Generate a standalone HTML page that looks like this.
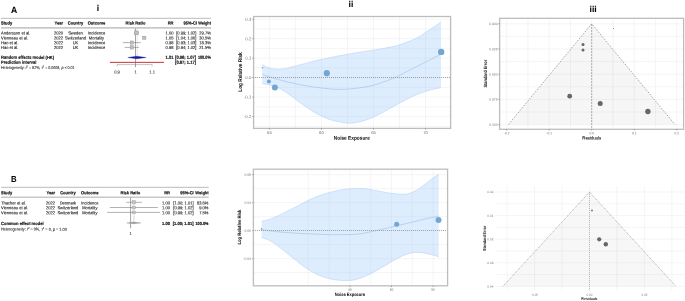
<!DOCTYPE html>
<html><head><meta charset="utf-8"><title>Figure</title>
<style>
html,body{margin:0;padding:0;background:#fff;}
body{width:685px;height:301px;overflow:hidden;}
svg{display:block;will-change:transform;}
text{font-family:"Liberation Sans", sans-serif;text-rendering:geometricPrecision;paint-order:stroke;}
</style></head>
<body>
<svg width="685" height="301" viewBox="0 0 685 301">
<rect width="685" height="301" fill="#fff"/>
<text x="10.90" y="13.10" font-size="9.20" text-anchor="start" fill="#000" stroke="#000" font-weight="bold" textLength="6.20" lengthAdjust="spacingAndGlyphs"  stroke-width="0.06" transform="rotate(0.05 10.90 13.10)">A</text>
<text x="10.90" y="182.10" font-size="8.80" text-anchor="start" fill="#000" stroke="#000" font-weight="bold" textLength="5.60" lengthAdjust="spacingAndGlyphs"  stroke-width="0.06" transform="rotate(0.05 10.90 182.10)">B</text>
<text x="97.90" y="11.10" font-size="8.60" text-anchor="middle" fill="#000" stroke="#000" font-weight="bold"  stroke-width="0.06" transform="rotate(0.05 97.90 11.10)">i</text>
<text x="350.90" y="7.10" font-size="8.60" text-anchor="middle" fill="#000" stroke="#000" font-weight="bold"  stroke-width="0.06" transform="rotate(0.05 350.90 7.10)">ii</text>
<text x="593.10" y="12.10" font-size="8.60" text-anchor="middle" fill="#000" stroke="#000" font-weight="bold"  stroke-width="0.06" transform="rotate(0.05 593.10 12.10)">iii</text>
<line x1="1.00" y1="18.40" x2="211.00" y2="18.40" stroke="#c8c8c8" stroke-width="1.30" />
<line x1="1.00" y1="27.90" x2="211.00" y2="27.90" stroke="#c8c8c8" stroke-width="1.60" />
<text x="1.00" y="24.60" font-size="4.40" text-anchor="start" fill="#111" stroke="#111" font-weight="bold" textLength="11.25" lengthAdjust="spacingAndGlyphs"  stroke-width="0.17" transform="rotate(0.05 1.00 24.60)">Study</text>
<text x="63.00" y="24.60" font-size="4.40" text-anchor="end" fill="#111" stroke="#111" font-weight="bold" textLength="8.56" lengthAdjust="spacingAndGlyphs"  stroke-width="0.17" transform="rotate(0.05 63.00 24.60)">Year</text>
<text x="75.50" y="24.60" font-size="4.40" text-anchor="middle" fill="#111" stroke="#111" font-weight="bold" textLength="15.52" lengthAdjust="spacingAndGlyphs"  stroke-width="0.17" transform="rotate(0.05 75.50 24.60)">Country</text>
<text x="96.50" y="24.60" font-size="4.40" text-anchor="middle" fill="#111" stroke="#111" font-weight="bold" textLength="17.55" lengthAdjust="spacingAndGlyphs"  stroke-width="0.17" transform="rotate(0.05 96.50 24.60)">Outcome</text>
<text x="135.50" y="24.60" font-size="4.40" text-anchor="middle" fill="#111" stroke="#111" font-weight="bold" textLength="19.81" lengthAdjust="spacingAndGlyphs"  stroke-width="0.17" transform="rotate(0.05 135.50 24.60)">Risk Ratio</text>
<text x="173.50" y="24.60" font-size="4.40" text-anchor="end" fill="#111" stroke="#111" font-weight="bold" textLength="5.85" lengthAdjust="spacingAndGlyphs"  stroke-width="0.17" transform="rotate(0.05 173.50 24.60)">RR</text>
<text x="197.10" y="24.60" font-size="4.40" text-anchor="end" fill="#111" stroke="#111" font-weight="bold" textLength="13.50" lengthAdjust="spacingAndGlyphs"  stroke-width="0.17" transform="rotate(0.05 197.10 24.60)">95%-CI</text>
<text x="211.00" y="24.60" font-size="4.40" text-anchor="end" fill="#111" stroke="#111" font-weight="bold" textLength="12.80" lengthAdjust="spacingAndGlyphs"  stroke-width="0.17" transform="rotate(0.05 211.00 24.60)">Weight</text>
<text x="1.00" y="34.55" font-size="4.40" text-anchor="start" fill="#111" stroke="#111" textLength="29.27" lengthAdjust="spacingAndGlyphs"  stroke-width="0.09" transform="rotate(0.05 1.00 34.55)">Andersson et al.</text>
<text x="63.00" y="34.55" font-size="4.40" text-anchor="end" fill="#111" stroke="#111" textLength="9.01" lengthAdjust="spacingAndGlyphs"  stroke-width="0.09" transform="rotate(0.05 63.00 34.55)">2020</text>
<text x="75.50" y="34.55" font-size="4.40" text-anchor="middle" fill="#111" stroke="#111" textLength="14.64" lengthAdjust="spacingAndGlyphs"  stroke-width="0.09" transform="rotate(0.05 75.50 34.55)">Sweden</text>
<text x="96.50" y="34.55" font-size="4.40" text-anchor="middle" fill="#111" stroke="#111" textLength="17.34" lengthAdjust="spacingAndGlyphs"  stroke-width="0.09" transform="rotate(0.05 96.50 34.55)">Incidence</text>
<text x="173.50" y="34.55" font-size="4.40" text-anchor="end" fill="#111" stroke="#111" textLength="7.88" lengthAdjust="spacingAndGlyphs"  stroke-width="0.09" transform="rotate(0.05 173.50 34.55)">1.00</text>
<text x="196.50" y="34.55" font-size="4.40" text-anchor="end" fill="#111" stroke="#111" textLength="20.27" lengthAdjust="spacingAndGlyphs"  stroke-width="0.09" transform="rotate(0.05 196.50 34.55)">[0.99; 1.02]</text>
<text x="210.80" y="34.55" font-size="4.40" text-anchor="end" fill="#111" stroke="#111" textLength="11.48" lengthAdjust="spacingAndGlyphs"  stroke-width="0.09" transform="rotate(0.05 210.80 34.55)">29.7%</text>
<text x="1.00" y="39.45" font-size="4.40" text-anchor="start" fill="#111" stroke="#111" textLength="26.95" lengthAdjust="spacingAndGlyphs"  stroke-width="0.09" transform="rotate(0.05 1.00 39.45)">Vienneau et al.</text>
<text x="63.00" y="39.45" font-size="4.40" text-anchor="end" fill="#111" stroke="#111" textLength="9.01" lengthAdjust="spacingAndGlyphs"  stroke-width="0.09" transform="rotate(0.05 63.00 39.45)">2022</text>
<text x="75.50" y="39.45" font-size="4.40" text-anchor="middle" fill="#111" stroke="#111" textLength="20.94" lengthAdjust="spacingAndGlyphs"  stroke-width="0.09" transform="rotate(0.05 75.50 39.45)">Switzerland</text>
<text x="96.50" y="39.45" font-size="4.40" text-anchor="middle" fill="#111" stroke="#111" textLength="15.30" lengthAdjust="spacingAndGlyphs"  stroke-width="0.09" transform="rotate(0.05 96.50 39.45)">Mortality</text>
<text x="173.50" y="39.45" font-size="4.40" text-anchor="end" fill="#111" stroke="#111" textLength="7.88" lengthAdjust="spacingAndGlyphs"  stroke-width="0.09" transform="rotate(0.05 173.50 39.45)">1.05</text>
<text x="196.50" y="39.45" font-size="4.40" text-anchor="end" fill="#111" stroke="#111" textLength="20.27" lengthAdjust="spacingAndGlyphs"  stroke-width="0.09" transform="rotate(0.05 196.50 39.45)">[1.04; 1.06]</text>
<text x="210.80" y="39.45" font-size="4.40" text-anchor="end" fill="#111" stroke="#111" textLength="11.48" lengthAdjust="spacingAndGlyphs"  stroke-width="0.09" transform="rotate(0.05 210.80 39.45)">30.5%</text>
<text x="1.00" y="44.25" font-size="4.40" text-anchor="start" fill="#111" stroke="#111" textLength="17.34" lengthAdjust="spacingAndGlyphs"  stroke-width="0.09" transform="rotate(0.05 1.00 44.25)">Hao et al.</text>
<text x="63.00" y="44.25" font-size="4.40" text-anchor="end" fill="#111" stroke="#111" textLength="9.01" lengthAdjust="spacingAndGlyphs"  stroke-width="0.09" transform="rotate(0.05 63.00 44.25)">2022</text>
<text x="75.50" y="44.25" font-size="4.40" text-anchor="middle" fill="#111" stroke="#111" textLength="5.63" lengthAdjust="spacingAndGlyphs"  stroke-width="0.09" transform="rotate(0.05 75.50 44.25)">UK</text>
<text x="96.50" y="44.25" font-size="4.40" text-anchor="middle" fill="#111" stroke="#111" textLength="17.34" lengthAdjust="spacingAndGlyphs"  stroke-width="0.09" transform="rotate(0.05 96.50 44.25)">Incidence</text>
<text x="173.50" y="44.25" font-size="4.40" text-anchor="end" fill="#111" stroke="#111" textLength="7.88" lengthAdjust="spacingAndGlyphs"  stroke-width="0.09" transform="rotate(0.05 173.50 44.25)">0.98</text>
<text x="196.50" y="44.25" font-size="4.40" text-anchor="end" fill="#111" stroke="#111" textLength="20.27" lengthAdjust="spacingAndGlyphs"  stroke-width="0.09" transform="rotate(0.05 196.50 44.25)">[0.93; 1.03]</text>
<text x="210.80" y="44.25" font-size="4.40" text-anchor="end" fill="#111" stroke="#111" textLength="11.48" lengthAdjust="spacingAndGlyphs"  stroke-width="0.09" transform="rotate(0.05 210.80 44.25)">18.3%</text>
<text x="1.00" y="49.05" font-size="4.40" text-anchor="start" fill="#111" stroke="#111" textLength="17.34" lengthAdjust="spacingAndGlyphs"  stroke-width="0.09" transform="rotate(0.05 1.00 49.05)">Hao et al.</text>
<text x="63.00" y="49.05" font-size="4.40" text-anchor="end" fill="#111" stroke="#111" textLength="9.01" lengthAdjust="spacingAndGlyphs"  stroke-width="0.09" transform="rotate(0.05 63.00 49.05)">2022</text>
<text x="75.50" y="49.05" font-size="4.40" text-anchor="middle" fill="#111" stroke="#111" textLength="5.63" lengthAdjust="spacingAndGlyphs"  stroke-width="0.09" transform="rotate(0.05 75.50 49.05)">UK</text>
<text x="96.50" y="49.05" font-size="4.40" text-anchor="middle" fill="#111" stroke="#111" textLength="17.34" lengthAdjust="spacingAndGlyphs"  stroke-width="0.09" transform="rotate(0.05 96.50 49.05)">Incidence</text>
<text x="173.50" y="49.05" font-size="4.40" text-anchor="end" fill="#111" stroke="#111" textLength="7.88" lengthAdjust="spacingAndGlyphs"  stroke-width="0.09" transform="rotate(0.05 173.50 49.05)">0.98</text>
<text x="196.50" y="49.05" font-size="4.40" text-anchor="end" fill="#111" stroke="#111" textLength="20.27" lengthAdjust="spacingAndGlyphs"  stroke-width="0.09" transform="rotate(0.05 196.50 49.05)">[0.94; 1.02]</text>
<text x="210.80" y="49.05" font-size="4.40" text-anchor="end" fill="#111" stroke="#111" textLength="11.48" lengthAdjust="spacingAndGlyphs"  stroke-width="0.09" transform="rotate(0.05 210.80 49.05)">21.5%</text>
<text x="1.00" y="58.85" font-size="4.40" text-anchor="start" fill="#111" stroke="#111" font-weight="bold" textLength="53.11" lengthAdjust="spacingAndGlyphs"  stroke-width="0.17" transform="rotate(0.05 1.00 58.85)">Random effects model (HK)</text>
<text x="173.50" y="58.85" font-size="4.40" text-anchor="end" fill="#111" stroke="#111" font-weight="bold" textLength="7.88" lengthAdjust="spacingAndGlyphs"  stroke-width="0.17" transform="rotate(0.05 173.50 58.85)">1.01</text>
<text x="196.00" y="58.85" font-size="4.40" text-anchor="end" fill="#111" stroke="#111" font-weight="bold" textLength="20.94" lengthAdjust="spacingAndGlyphs"  stroke-width="0.17" transform="rotate(0.05 196.00 58.85)">[0.96; 1.07]</text>
<text x="210.80" y="58.85" font-size="4.40" text-anchor="end" fill="#111" stroke="#111" font-weight="bold" textLength="12.90" lengthAdjust="spacingAndGlyphs"  stroke-width="0.17" transform="rotate(0.05 210.80 58.85)">100.0%</text>
<text x="1.00" y="63.70" font-size="4.40" text-anchor="start" fill="#111" stroke="#111" font-weight="bold" textLength="35.34" lengthAdjust="spacingAndGlyphs"  stroke-width="0.17" transform="rotate(0.05 1.00 63.70)">Prediction interval</text>
<text x="196.00" y="63.70" font-size="4.40" text-anchor="end" fill="#111" stroke="#111" font-weight="bold" textLength="20.94" lengthAdjust="spacingAndGlyphs"  stroke-width="0.17" transform="rotate(0.05 196.00 63.70)">[0.87; 1.17]</text>
<text x="1.00" y="69.00" font-size="4.20" text-anchor="start" fill="#222" stroke="#222" textLength="73.60" lengthAdjust="spacingAndGlyphs"  stroke-width="0.08" transform="rotate(0.05 1.00 69.00)">Heterogeneity: <tspan font-style="italic">I</tspan><tspan dy="-1.7" font-size="2.9">2</tspan><tspan dy="1.7"> = 82%, </tspan><tspan font-style="italic">τ</tspan><tspan dy="-1.7" font-size="2.9">2</tspan><tspan dy="1.7"> = 0.0008, </tspan><tspan font-style="italic">p</tspan> &lt; 0.01</text>
<line x1="137.20" y1="28.60" x2="137.20" y2="56.00" stroke="#c8c8c8" stroke-width="0.60" stroke-dasharray="1.2,0.6"/>
<line x1="135.50" y1="28.60" x2="135.50" y2="67.20" stroke="#4a4a4a" stroke-width="0.50" />
<line x1="133.74" y1="32.90" x2="138.97" y2="32.90" stroke="#666" stroke-width="0.50" />
<line x1="142.36" y1="37.80" x2="145.70" y2="37.80" stroke="#666" stroke-width="0.50" />
<line x1="122.80" y1="42.60" x2="140.67" y2="42.60" stroke="#666" stroke-width="0.50" />
<line x1="124.67" y1="47.40" x2="138.97" y2="47.40" stroke="#666" stroke-width="0.50" />
<rect x="134.46" y="30.95" width="3.90" height="3.90" fill="#bdbdbd" stroke="#959595" stroke-width="0.4"/>
<rect x="142.64" y="36.15" width="3.30" height="3.30" fill="#bdbdbd" stroke="#959595" stroke-width="0.4"/>
<rect x="130.23" y="40.95" width="3.30" height="3.30" fill="#bdbdbd" stroke="#959595" stroke-width="0.4"/>
<rect x="130.23" y="45.75" width="3.30" height="3.30" fill="#bdbdbd" stroke="#959595" stroke-width="0.4"/>
<polygon points="127.80,57.5 136.80,56.2 146.20,57.5 136.80,58.8" fill="#1a1aa0" stroke="#00008b" stroke-width="0.3"/>
<line x1="110.00" y1="62.35" x2="164.00" y2="62.35" stroke="#c83232" stroke-width="1.00" />
<path d="M117.06,66.3 V64.6 H152.18 V66.3 M135.5,64.6 V66.3" fill="none" stroke="#888" stroke-width="0.5"/>
<text x="117.06" y="73.40" font-size="4.40" text-anchor="middle" fill="#333" stroke="#333" textLength="5.63" lengthAdjust="spacingAndGlyphs"  stroke-width="0.09" transform="rotate(0.05 117.06 73.40)">0.9</text>
<text x="135.50" y="73.40" font-size="4.40" text-anchor="middle" fill="#333" stroke="#333" textLength="2.25" lengthAdjust="spacingAndGlyphs"  stroke-width="0.09" transform="rotate(0.05 135.50 73.40)">1</text>
<text x="152.18" y="73.40" font-size="4.40" text-anchor="middle" fill="#333" stroke="#333" textLength="5.63" lengthAdjust="spacingAndGlyphs"  stroke-width="0.09" transform="rotate(0.05 152.18 73.40)">1.1</text>
<line x1="1.00" y1="187.30" x2="208.70" y2="187.30" stroke="#c8c8c8" stroke-width="1.30" />
<line x1="1.00" y1="197.30" x2="208.70" y2="197.30" stroke="#c8c8c8" stroke-width="1.60" />
<text x="1.00" y="194.25" font-size="4.40" text-anchor="start" fill="#111" stroke="#111" font-weight="bold" textLength="11.25" lengthAdjust="spacingAndGlyphs"  stroke-width="0.17" transform="rotate(0.05 1.00 194.25)">Study</text>
<text x="55.00" y="194.25" font-size="4.40" text-anchor="end" fill="#111" stroke="#111" font-weight="bold" textLength="8.56" lengthAdjust="spacingAndGlyphs"  stroke-width="0.17" transform="rotate(0.05 55.00 194.25)">Year</text>
<text x="67.90" y="194.25" font-size="4.40" text-anchor="middle" fill="#111" stroke="#111" font-weight="bold" textLength="15.52" lengthAdjust="spacingAndGlyphs"  stroke-width="0.17" transform="rotate(0.05 67.90 194.25)">Country</text>
<text x="89.80" y="194.25" font-size="4.40" text-anchor="middle" fill="#111" stroke="#111" font-weight="bold" textLength="17.55" lengthAdjust="spacingAndGlyphs"  stroke-width="0.17" transform="rotate(0.05 89.80 194.25)">Outcome</text>
<text x="130.40" y="194.25" font-size="4.40" text-anchor="middle" fill="#111" stroke="#111" font-weight="bold" textLength="19.81" lengthAdjust="spacingAndGlyphs"  stroke-width="0.17" transform="rotate(0.05 130.40 194.25)">Risk Ratio</text>
<text x="170.00" y="194.25" font-size="4.40" text-anchor="end" fill="#111" stroke="#111" font-weight="bold" textLength="5.85" lengthAdjust="spacingAndGlyphs"  stroke-width="0.17" transform="rotate(0.05 170.00 194.25)">RR</text>
<text x="193.70" y="194.25" font-size="4.40" text-anchor="end" fill="#111" stroke="#111" font-weight="bold" textLength="13.50" lengthAdjust="spacingAndGlyphs"  stroke-width="0.17" transform="rotate(0.05 193.70 194.25)">95%-CI</text>
<text x="208.70" y="194.25" font-size="4.40" text-anchor="end" fill="#111" stroke="#111" font-weight="bold" textLength="13.42" lengthAdjust="spacingAndGlyphs"  stroke-width="0.17" transform="rotate(0.05 208.70 194.25)">Weight</text>
<text x="1.00" y="204.40" font-size="4.40" text-anchor="start" fill="#111" stroke="#111" textLength="24.76" lengthAdjust="spacingAndGlyphs"  stroke-width="0.09" transform="rotate(0.05 1.00 204.40)">Thacher et al.</text>
<text x="55.00" y="204.40" font-size="4.40" text-anchor="end" fill="#111" stroke="#111" textLength="9.01" lengthAdjust="spacingAndGlyphs"  stroke-width="0.09" transform="rotate(0.05 55.00 204.40)">2022</text>
<text x="67.90" y="204.40" font-size="4.40" text-anchor="middle" fill="#111" stroke="#111" textLength="16.43" lengthAdjust="spacingAndGlyphs"  stroke-width="0.09" transform="rotate(0.05 67.90 204.40)">Denmark</text>
<text x="89.80" y="204.40" font-size="4.40" text-anchor="middle" fill="#111" stroke="#111" textLength="17.34" lengthAdjust="spacingAndGlyphs"  stroke-width="0.09" transform="rotate(0.05 89.80 204.40)">Incidence</text>
<text x="170.00" y="204.40" font-size="4.40" text-anchor="end" fill="#111" stroke="#111" textLength="7.88" lengthAdjust="spacingAndGlyphs"  stroke-width="0.09" transform="rotate(0.05 170.00 204.40)">1.00</text>
<text x="193.60" y="204.40" font-size="4.40" text-anchor="end" fill="#111" stroke="#111" textLength="20.27" lengthAdjust="spacingAndGlyphs"  stroke-width="0.09" transform="rotate(0.05 193.60 204.40)">[1.00; 1.01]</text>
<text x="208.40" y="204.40" font-size="4.40" text-anchor="end" fill="#111" stroke="#111" textLength="11.48" lengthAdjust="spacingAndGlyphs"  stroke-width="0.09" transform="rotate(0.05 208.40 204.40)">83.6%</text>
<text x="1.00" y="209.30" font-size="4.40" text-anchor="start" fill="#111" stroke="#111" textLength="26.95" lengthAdjust="spacingAndGlyphs"  stroke-width="0.09" transform="rotate(0.05 1.00 209.30)">Vienneau et al.</text>
<text x="55.00" y="209.30" font-size="4.40" text-anchor="end" fill="#111" stroke="#111" textLength="9.01" lengthAdjust="spacingAndGlyphs"  stroke-width="0.09" transform="rotate(0.05 55.00 209.30)">2022</text>
<text x="67.90" y="209.30" font-size="4.40" text-anchor="middle" fill="#111" stroke="#111" textLength="20.94" lengthAdjust="spacingAndGlyphs"  stroke-width="0.09" transform="rotate(0.05 67.90 209.30)">Switzerland</text>
<text x="89.80" y="209.30" font-size="4.40" text-anchor="middle" fill="#111" stroke="#111" textLength="15.30" lengthAdjust="spacingAndGlyphs"  stroke-width="0.09" transform="rotate(0.05 89.80 209.30)">Mortality</text>
<text x="170.00" y="209.30" font-size="4.40" text-anchor="end" fill="#111" stroke="#111" textLength="7.88" lengthAdjust="spacingAndGlyphs"  stroke-width="0.09" transform="rotate(0.05 170.00 209.30)">1.00</text>
<text x="193.60" y="209.30" font-size="4.40" text-anchor="end" fill="#111" stroke="#111" textLength="20.27" lengthAdjust="spacingAndGlyphs"  stroke-width="0.09" transform="rotate(0.05 193.60 209.30)">[0.99; 1.02]</text>
<text x="208.40" y="209.30" font-size="4.40" text-anchor="end" fill="#111" stroke="#111" textLength="9.23" lengthAdjust="spacingAndGlyphs"  stroke-width="0.09" transform="rotate(0.05 208.40 209.30)">9.0%</text>
<text x="1.00" y="214.35" font-size="4.40" text-anchor="start" fill="#111" stroke="#111" textLength="26.95" lengthAdjust="spacingAndGlyphs"  stroke-width="0.09" transform="rotate(0.05 1.00 214.35)">Vienneau et al.</text>
<text x="55.00" y="214.35" font-size="4.40" text-anchor="end" fill="#111" stroke="#111" textLength="9.01" lengthAdjust="spacingAndGlyphs"  stroke-width="0.09" transform="rotate(0.05 55.00 214.35)">2022</text>
<text x="67.90" y="214.35" font-size="4.40" text-anchor="middle" fill="#111" stroke="#111" textLength="20.94" lengthAdjust="spacingAndGlyphs"  stroke-width="0.09" transform="rotate(0.05 67.90 214.35)">Switzerland</text>
<text x="89.80" y="214.35" font-size="4.40" text-anchor="middle" fill="#111" stroke="#111" textLength="15.30" lengthAdjust="spacingAndGlyphs"  stroke-width="0.09" transform="rotate(0.05 89.80 214.35)">Mortality</text>
<text x="170.00" y="214.35" font-size="4.40" text-anchor="end" fill="#111" stroke="#111" textLength="7.88" lengthAdjust="spacingAndGlyphs"  stroke-width="0.09" transform="rotate(0.05 170.00 214.35)">1.00</text>
<text x="193.60" y="214.35" font-size="4.40" text-anchor="end" fill="#111" stroke="#111" textLength="20.27" lengthAdjust="spacingAndGlyphs"  stroke-width="0.09" transform="rotate(0.05 193.60 214.35)">[0.99; 1.02]</text>
<text x="208.40" y="214.35" font-size="4.40" text-anchor="end" fill="#111" stroke="#111" textLength="9.23" lengthAdjust="spacingAndGlyphs"  stroke-width="0.09" transform="rotate(0.05 208.40 214.35)">7.5%</text>
<text x="1.00" y="225.05" font-size="4.40" text-anchor="start" fill="#111" stroke="#111" font-weight="bold" textLength="42.53" lengthAdjust="spacingAndGlyphs"  stroke-width="0.17" transform="rotate(0.05 1.00 225.05)">Common effect model</text>
<text x="170.00" y="225.05" font-size="4.40" text-anchor="end" fill="#111" stroke="#111" font-weight="bold" textLength="7.88" lengthAdjust="spacingAndGlyphs"  stroke-width="0.17" transform="rotate(0.05 170.00 225.05)">1.00</text>
<text x="193.60" y="225.05" font-size="4.40" text-anchor="end" fill="#111" stroke="#111" font-weight="bold" textLength="20.94" lengthAdjust="spacingAndGlyphs"  stroke-width="0.17" transform="rotate(0.05 193.60 225.05)">[1.00; 1.01]</text>
<text x="208.40" y="225.05" font-size="4.40" text-anchor="end" fill="#111" stroke="#111" font-weight="bold" textLength="12.90" lengthAdjust="spacingAndGlyphs"  stroke-width="0.17" transform="rotate(0.05 208.40 225.05)">100.0%</text>
<text x="1.00" y="230.60" font-size="4.20" text-anchor="start" fill="#222" stroke="#222" textLength="65.80" lengthAdjust="spacingAndGlyphs"  stroke-width="0.08" transform="rotate(0.05 1.00 230.60)">Heterogeneity: <tspan font-style="italic">I</tspan><tspan dy="-1.7" font-size="2.9">2</tspan><tspan dy="1.7"> = 0%, </tspan><tspan font-style="italic">τ</tspan><tspan dy="-1.7" font-size="2.9">2</tspan><tspan dy="1.7"> = 0, </tspan><tspan font-style="italic">p</tspan> = 1.00</text>
<line x1="133.90" y1="202.50" x2="133.90" y2="222.50" stroke="#d8d8d8" stroke-width="1.40" stroke-dasharray="1.2,0.5"/>
<line x1="130.60" y1="197.60" x2="130.60" y2="228.20" stroke="#4a4a4a" stroke-width="0.50" />
<line x1="126.20" y1="202.30" x2="141.90" y2="202.30" stroke="#666" stroke-width="0.50" />
<line x1="109.90" y1="207.50" x2="157.80" y2="207.50" stroke="#666" stroke-width="0.50" />
<line x1="107.20" y1="212.40" x2="160.20" y2="212.40" stroke="#666" stroke-width="0.50" />
<rect x="132.30" y="200.70" width="3.20" height="3.20" fill="#c6c6c6" stroke="#9a9a9a" stroke-width="0.4"/>
<rect x="132.50" y="206.10" width="2.80" height="2.80" fill="#c6c6c6" stroke="#9a9a9a" stroke-width="0.4"/>
<rect x="132.50" y="211.00" width="2.80" height="2.80" fill="#c6c6c6" stroke="#9a9a9a" stroke-width="0.4"/>
<polygon points="126.7,222.9 133.8,222.1 140.9,222.9 133.8,223.7" fill="#999" stroke="#888" stroke-width="0.3"/>
<text x="130.60" y="235.00" font-size="4.40" text-anchor="middle" fill="#333" stroke="#333" textLength="2.25" lengthAdjust="spacingAndGlyphs"  stroke-width="0.09" transform="rotate(0.05 130.60 235.00)">1</text>
<line x1="253.60" y1="126.25" x2="450.60" y2="126.25" stroke="#ebebeb" stroke-width="0.50" />
<line x1="253.60" y1="116.52" x2="450.60" y2="116.52" stroke="#ebebeb" stroke-width="0.50" />
<line x1="253.60" y1="106.79" x2="450.60" y2="106.79" stroke="#ebebeb" stroke-width="0.50" />
<line x1="253.60" y1="97.06" x2="450.60" y2="97.06" stroke="#ebebeb" stroke-width="0.50" />
<line x1="253.60" y1="87.33" x2="450.60" y2="87.33" stroke="#ebebeb" stroke-width="0.50" />
<line x1="253.60" y1="77.60" x2="450.60" y2="77.60" stroke="#ebebeb" stroke-width="0.50" />
<line x1="253.60" y1="67.87" x2="450.60" y2="67.87" stroke="#ebebeb" stroke-width="0.50" />
<line x1="253.60" y1="58.14" x2="450.60" y2="58.14" stroke="#ebebeb" stroke-width="0.50" />
<line x1="253.60" y1="48.41" x2="450.60" y2="48.41" stroke="#ebebeb" stroke-width="0.50" />
<line x1="253.60" y1="38.68" x2="450.60" y2="38.68" stroke="#ebebeb" stroke-width="0.50" />
<line x1="253.60" y1="28.95" x2="450.60" y2="28.95" stroke="#ebebeb" stroke-width="0.50" />
<line x1="253.60" y1="19.22" x2="450.60" y2="19.22" stroke="#ebebeb" stroke-width="0.50" />
<line x1="269.40" y1="16.50" x2="269.40" y2="128.40" stroke="#ebebeb" stroke-width="0.50" />
<line x1="295.42" y1="16.50" x2="295.42" y2="128.40" stroke="#ebebeb" stroke-width="0.50" />
<line x1="321.45" y1="16.50" x2="321.45" y2="128.40" stroke="#ebebeb" stroke-width="0.50" />
<line x1="347.47" y1="16.50" x2="347.47" y2="128.40" stroke="#ebebeb" stroke-width="0.50" />
<line x1="373.50" y1="16.50" x2="373.50" y2="128.40" stroke="#ebebeb" stroke-width="0.50" />
<line x1="399.52" y1="16.50" x2="399.52" y2="128.40" stroke="#ebebeb" stroke-width="0.50" />
<line x1="425.55" y1="16.50" x2="425.55" y2="128.40" stroke="#ebebeb" stroke-width="0.50" />
<path d="M262.30,64.50 C263.02,64.95 264.77,66.47 266.60,67.20 C268.43,67.93 271.08,68.57 273.30,68.90 C275.52,69.23 277.68,69.30 279.90,69.20 C282.12,69.10 284.38,68.73 286.60,68.30 C288.82,67.87 291.00,67.17 293.20,66.60 C295.40,66.03 296.48,65.77 299.80,64.90 C303.12,64.03 309.73,62.25 313.10,61.40 C316.47,60.55 315.82,60.70 320.00,59.80 C324.18,58.90 332.12,57.18 338.20,56.00 C344.28,54.82 350.42,53.72 356.50,52.70 C362.58,51.68 368.62,50.92 374.70,49.90 C380.78,48.88 388.43,47.60 393.00,46.60 C397.57,45.60 399.07,44.92 402.10,43.90 C405.13,42.88 408.15,41.82 411.20,40.50 C414.25,39.18 417.35,37.78 420.40,36.00 C423.45,34.22 426.77,31.63 429.50,29.80 C432.23,27.97 434.88,26.38 436.80,25.00 C438.72,23.62 440.30,22.08 441.00,21.50 L441.00,87.60 C439.15,88.00 433.72,88.92 429.90,90.00 C426.08,91.08 422.00,92.53 418.10,94.10 C414.20,95.67 410.37,97.47 406.50,99.40 C402.63,101.33 398.77,103.58 394.90,105.70 C391.03,107.82 387.18,110.07 383.30,112.10 C379.42,114.13 375.48,116.30 371.60,117.90 C367.72,119.50 363.42,120.82 360.00,121.70 C356.58,122.58 353.80,123.03 351.10,123.20 C348.40,123.37 347.45,123.35 343.80,122.70 C340.15,122.05 334.07,121.02 329.20,119.30 C324.33,117.58 319.47,115.18 314.60,112.40 C309.73,109.62 304.10,105.50 300.00,102.60 C295.90,99.70 293.33,97.33 290.00,95.00 C286.67,92.67 283.33,90.27 280.00,88.60 C276.67,86.93 272.95,85.82 270.00,85.00 C267.05,84.18 263.58,83.92 262.30,83.70 Z" fill="#93c2fb" fill-opacity="0.3"/>
<path d="M262.30,64.50 C263.02,64.95 264.77,66.47 266.60,67.20 C268.43,67.93 271.08,68.57 273.30,68.90 C275.52,69.23 277.68,69.30 279.90,69.20 C282.12,69.10 284.38,68.73 286.60,68.30 C288.82,67.87 291.00,67.17 293.20,66.60 C295.40,66.03 296.48,65.77 299.80,64.90 C303.12,64.03 309.73,62.25 313.10,61.40 C316.47,60.55 315.82,60.70 320.00,59.80 C324.18,58.90 332.12,57.18 338.20,56.00 C344.28,54.82 350.42,53.72 356.50,52.70 C362.58,51.68 368.62,50.92 374.70,49.90 C380.78,48.88 388.43,47.60 393.00,46.60 C397.57,45.60 399.07,44.92 402.10,43.90 C405.13,42.88 408.15,41.82 411.20,40.50 C414.25,39.18 417.35,37.78 420.40,36.00 C423.45,34.22 426.77,31.63 429.50,29.80 C432.23,27.97 434.88,26.38 436.80,25.00 C438.72,23.62 440.30,22.08 441.00,21.50" fill="none" stroke="#b3d2f6" stroke-width="0.6"/>
<path d="M262.30,83.70 C263.58,83.92 267.05,84.18 270.00,85.00 C272.95,85.82 276.67,86.93 280.00,88.60 C283.33,90.27 286.67,92.67 290.00,95.00 C293.33,97.33 295.90,99.70 300.00,102.60 C304.10,105.50 309.73,109.62 314.60,112.40 C319.47,115.18 324.33,117.58 329.20,119.30 C334.07,121.02 340.15,122.05 343.80,122.70 C347.45,123.35 348.40,123.37 351.10,123.20 C353.80,123.03 356.58,122.58 360.00,121.70 C363.42,120.82 367.72,119.50 371.60,117.90 C375.48,116.30 379.42,114.13 383.30,112.10 C387.18,110.07 391.03,107.82 394.90,105.70 C398.77,103.58 402.63,101.33 406.50,99.40 C410.37,97.47 414.20,95.67 418.10,94.10 C422.00,92.53 426.08,91.08 429.90,90.00 C433.72,88.92 439.15,88.00 441.00,87.60" fill="none" stroke="#b3d2f6" stroke-width="0.6"/>
<path d="M262.40,74.30 C263.67,74.75 265.57,75.67 270.00,77.00 C274.43,78.33 282.67,80.78 289.00,82.30 C295.33,83.82 301.67,85.05 308.00,86.10 C314.33,87.15 321.63,88.07 327.00,88.60 C332.37,89.13 335.47,89.33 340.20,89.30 C344.93,89.27 349.70,89.12 355.40,88.40 C361.10,87.68 367.92,86.77 374.40,85.00 C380.88,83.23 390.03,79.47 394.30,77.80 C398.57,76.13 395.72,77.15 400.00,75.00 C404.28,72.85 413.17,68.37 420.00,64.90 C426.83,61.43 437.50,55.98 441.00,54.20" fill="none" stroke="#a9c9ee" stroke-width="0.8"/>
<line x1="253.00" y1="77.50" x2="450.60" y2="77.50" stroke="#959595" stroke-width="0.85" stroke-dasharray="1,1"/>
<circle cx="262.50" cy="67.70" r="0.80" fill="#74a6d3" />
<circle cx="268.90" cy="81.40" r="2.00" fill="#74a6d3" />
<circle cx="274.90" cy="87.40" r="3.00" fill="#74a6d3" />
<circle cx="326.80" cy="73.20" r="3.10" fill="#74a6d3" />
<circle cx="441.20" cy="51.90" r="3.20" fill="#74a6d3" />
<rect x="253.60" y="16.50" width="197.00" height="111.90" fill="none" stroke="#bdbdbd" stroke-width="1.3"/>
<line x1="252.30" y1="19.22" x2="253.60" y2="19.22" stroke="#555" stroke-width="0.50" />
<text x="251.30" y="20.72" font-size="4.30" text-anchor="end" fill="#6e6e6e" stroke="#6e6e6e"  stroke-width="0.00" transform="rotate(0.05 251.30 20.72)">0.3</text>
<line x1="252.30" y1="38.68" x2="253.60" y2="38.68" stroke="#555" stroke-width="0.50" />
<text x="251.30" y="40.18" font-size="4.30" text-anchor="end" fill="#6e6e6e" stroke="#6e6e6e"  stroke-width="0.00" transform="rotate(0.05 251.30 40.18)">0.2</text>
<line x1="252.30" y1="58.14" x2="253.60" y2="58.14" stroke="#555" stroke-width="0.50" />
<text x="251.30" y="59.64" font-size="4.30" text-anchor="end" fill="#6e6e6e" stroke="#6e6e6e"  stroke-width="0.00" transform="rotate(0.05 251.30 59.64)">0.1</text>
<line x1="252.30" y1="77.60" x2="253.60" y2="77.60" stroke="#555" stroke-width="0.50" />
<text x="251.30" y="79.10" font-size="4.30" text-anchor="end" fill="#6e6e6e" stroke="#6e6e6e"  stroke-width="0.00" transform="rotate(0.05 251.30 79.10)">0.0</text>
<line x1="252.30" y1="97.06" x2="253.60" y2="97.06" stroke="#555" stroke-width="0.50" />
<text x="251.30" y="98.56" font-size="4.30" text-anchor="end" fill="#6e6e6e" stroke="#6e6e6e"  stroke-width="0.00" transform="rotate(0.05 251.30 98.56)">-0.1</text>
<line x1="252.30" y1="116.52" x2="253.60" y2="116.52" stroke="#555" stroke-width="0.50" />
<text x="251.30" y="118.02" font-size="4.30" text-anchor="end" fill="#6e6e6e" stroke="#6e6e6e"  stroke-width="0.00" transform="rotate(0.05 251.30 118.02)">-0.2</text>
<line x1="269.40" y1="128.40" x2="269.40" y2="129.70" stroke="#555" stroke-width="0.50" />
<text x="269.40" y="133.90" font-size="4.20" text-anchor="middle" fill="#6e6e6e" stroke="#6e6e6e"  stroke-width="0.00" transform="rotate(0.05 269.40 133.90)">55</text>
<line x1="321.45" y1="128.40" x2="321.45" y2="129.70" stroke="#555" stroke-width="0.50" />
<text x="321.45" y="133.90" font-size="4.20" text-anchor="middle" fill="#6e6e6e" stroke="#6e6e6e"  stroke-width="0.00" transform="rotate(0.05 321.45 133.90)">60</text>
<line x1="373.50" y1="128.40" x2="373.50" y2="129.70" stroke="#555" stroke-width="0.50" />
<text x="373.50" y="133.90" font-size="4.20" text-anchor="middle" fill="#6e6e6e" stroke="#6e6e6e"  stroke-width="0.00" transform="rotate(0.05 373.50 133.90)">65</text>
<line x1="425.55" y1="128.40" x2="425.55" y2="129.70" stroke="#555" stroke-width="0.50" />
<text x="425.55" y="133.90" font-size="4.20" text-anchor="middle" fill="#6e6e6e" stroke="#6e6e6e"  stroke-width="0.00" transform="rotate(0.05 425.55 133.90)">70</text>
<text x="351.80" y="139.70" font-size="5.40" text-anchor="middle" fill="#111" stroke="#111" font-weight="bold" textLength="36.00" lengthAdjust="spacingAndGlyphs"  stroke-width="0.02" transform="rotate(0.05 351.80 139.70)">Noise Exposure</text>
<text x="0.00" y="0.00" font-size="5.40" text-anchor="middle" fill="#111" stroke="#111" font-weight="bold" textLength="39.50" lengthAdjust="spacingAndGlyphs" transform="translate(241.9,72.0) rotate(-89.95)" stroke-width="0.02">Log Relative Risk</text>
<line x1="499.60" y1="23.80" x2="683.60" y2="23.80" stroke="#ebebeb" stroke-width="0.50" />
<line x1="499.60" y1="36.40" x2="683.60" y2="36.40" stroke="#ebebeb" stroke-width="0.50" />
<line x1="499.60" y1="49.00" x2="683.60" y2="49.00" stroke="#ebebeb" stroke-width="0.50" />
<line x1="499.60" y1="61.60" x2="683.60" y2="61.60" stroke="#ebebeb" stroke-width="0.50" />
<line x1="499.60" y1="74.20" x2="683.60" y2="74.20" stroke="#ebebeb" stroke-width="0.50" />
<line x1="499.60" y1="86.80" x2="683.60" y2="86.80" stroke="#ebebeb" stroke-width="0.50" />
<line x1="499.60" y1="99.40" x2="683.60" y2="99.40" stroke="#ebebeb" stroke-width="0.50" />
<line x1="499.60" y1="112.00" x2="683.60" y2="112.00" stroke="#ebebeb" stroke-width="0.50" />
<line x1="499.60" y1="124.60" x2="683.60" y2="124.60" stroke="#ebebeb" stroke-width="0.50" />
<line x1="506.70" y1="18.30" x2="506.70" y2="129.30" stroke="#ebebeb" stroke-width="0.50" />
<line x1="527.95" y1="18.30" x2="527.95" y2="129.30" stroke="#ebebeb" stroke-width="0.50" />
<line x1="549.20" y1="18.30" x2="549.20" y2="129.30" stroke="#ebebeb" stroke-width="0.50" />
<line x1="570.45" y1="18.30" x2="570.45" y2="129.30" stroke="#ebebeb" stroke-width="0.50" />
<line x1="591.70" y1="18.30" x2="591.70" y2="129.30" stroke="#ebebeb" stroke-width="0.50" />
<line x1="612.95" y1="18.30" x2="612.95" y2="129.30" stroke="#ebebeb" stroke-width="0.50" />
<line x1="634.20" y1="18.30" x2="634.20" y2="129.30" stroke="#ebebeb" stroke-width="0.50" />
<line x1="655.45" y1="18.30" x2="655.45" y2="129.30" stroke="#ebebeb" stroke-width="0.50" />
<line x1="676.70" y1="18.30" x2="676.70" y2="129.30" stroke="#ebebeb" stroke-width="0.50" />
<polygon points="508.40,124.60 591.70,23.80 675.00,124.60" fill="#000" fill-opacity="0.035"/>
<path d="M508.40,124.60 L591.70,23.80 L675.00,124.60" fill="none" stroke="#8c8c8c" stroke-width="0.75" stroke-dasharray="1.6,1.4"/>
<line x1="591.70" y1="23.80" x2="591.70" y2="129.30" stroke="#8c8c8c" stroke-width="0.80" stroke-dasharray="1.6,1.4" stroke-dashoffset="-0.45"/>
<circle cx="583.00" cy="44.60" r="1.50" fill="#666666" />
<circle cx="583.00" cy="49.90" r="1.50" fill="#666666" />
<circle cx="613.50" cy="28.60" r="0.50" fill="#666666" />
<circle cx="569.70" cy="96.20" r="2.40" fill="#666666" />
<circle cx="600.20" cy="103.50" r="2.50" fill="#666666" />
<circle cx="647.90" cy="111.50" r="2.70" fill="#666666" />
<rect x="499.60" y="18.30" width="184.00" height="111.00" fill="none" stroke="#bdbdbd" stroke-width="1.3"/>
<line x1="498.40" y1="23.80" x2="499.60" y2="23.80" stroke="#555" stroke-width="0.50" />
<text x="497.60" y="25.00" font-size="3.40" text-anchor="end" fill="#6e6e6e" stroke="#6e6e6e"  stroke-width="0.00" transform="rotate(0.05 497.60 25.00)">0.000</text>
<line x1="498.40" y1="49.00" x2="499.60" y2="49.00" stroke="#555" stroke-width="0.50" />
<text x="497.60" y="50.20" font-size="3.40" text-anchor="end" fill="#6e6e6e" stroke="#6e6e6e"  stroke-width="0.00" transform="rotate(0.05 497.60 50.20)">0.025</text>
<line x1="498.40" y1="74.20" x2="499.60" y2="74.20" stroke="#555" stroke-width="0.50" />
<text x="497.60" y="75.40" font-size="3.40" text-anchor="end" fill="#6e6e6e" stroke="#6e6e6e"  stroke-width="0.00" transform="rotate(0.05 497.60 75.40)">0.050</text>
<line x1="498.40" y1="99.40" x2="499.60" y2="99.40" stroke="#555" stroke-width="0.50" />
<text x="497.60" y="100.60" font-size="3.40" text-anchor="end" fill="#6e6e6e" stroke="#6e6e6e"  stroke-width="0.00" transform="rotate(0.05 497.60 100.60)">0.075</text>
<line x1="498.40" y1="124.60" x2="499.60" y2="124.60" stroke="#555" stroke-width="0.50" />
<text x="497.60" y="125.80" font-size="3.40" text-anchor="end" fill="#6e6e6e" stroke="#6e6e6e"  stroke-width="0.00" transform="rotate(0.05 497.60 125.80)">0.100</text>
<line x1="506.70" y1="129.30" x2="506.70" y2="130.50" stroke="#555" stroke-width="0.50" />
<text x="506.70" y="134.30" font-size="3.30" text-anchor="middle" fill="#6e6e6e" stroke="#6e6e6e"  stroke-width="0.00" transform="rotate(0.05 506.70 134.30)">-0.2</text>
<line x1="549.20" y1="129.30" x2="549.20" y2="130.50" stroke="#555" stroke-width="0.50" />
<text x="549.20" y="134.30" font-size="3.30" text-anchor="middle" fill="#6e6e6e" stroke="#6e6e6e"  stroke-width="0.00" transform="rotate(0.05 549.20 134.30)">-0.1</text>
<line x1="591.70" y1="129.30" x2="591.70" y2="130.50" stroke="#555" stroke-width="0.50" />
<text x="591.70" y="134.30" font-size="3.30" text-anchor="middle" fill="#6e6e6e" stroke="#6e6e6e"  stroke-width="0.00" transform="rotate(0.05 591.70 134.30)">0.0</text>
<line x1="634.20" y1="129.30" x2="634.20" y2="130.50" stroke="#555" stroke-width="0.50" />
<text x="634.20" y="134.30" font-size="3.30" text-anchor="middle" fill="#6e6e6e" stroke="#6e6e6e"  stroke-width="0.00" transform="rotate(0.05 634.20 134.30)">0.1</text>
<line x1="676.70" y1="129.30" x2="676.70" y2="130.50" stroke="#555" stroke-width="0.50" />
<text x="676.70" y="134.30" font-size="3.30" text-anchor="middle" fill="#6e6e6e" stroke="#6e6e6e"  stroke-width="0.00" transform="rotate(0.05 676.70 134.30)">0.2</text>
<text x="591.70" y="139.50" font-size="4.60" text-anchor="middle" fill="#111" stroke="#111" textLength="18.70" lengthAdjust="spacingAndGlyphs"  stroke-width="0.10" transform="rotate(0.05 591.70 139.50)">Residuals</text>
<text x="0.00" y="0.00" font-size="4.60" text-anchor="middle" fill="#111" stroke="#111" font-weight="bold" textLength="27.90" lengthAdjust="spacingAndGlyphs" transform="translate(487.0,73.65) rotate(-89.95)" stroke-width="0.02">Standard Error</text>
<line x1="253.40" y1="174.60" x2="447.60" y2="174.60" stroke="#ebebeb" stroke-width="0.50" />
<line x1="253.40" y1="188.60" x2="447.60" y2="188.60" stroke="#ebebeb" stroke-width="0.50" />
<line x1="253.40" y1="202.60" x2="447.60" y2="202.60" stroke="#ebebeb" stroke-width="0.50" />
<line x1="253.40" y1="216.60" x2="447.60" y2="216.60" stroke="#ebebeb" stroke-width="0.50" />
<line x1="253.40" y1="230.60" x2="447.60" y2="230.60" stroke="#ebebeb" stroke-width="0.50" />
<line x1="253.40" y1="244.60" x2="447.60" y2="244.60" stroke="#ebebeb" stroke-width="0.50" />
<line x1="253.40" y1="258.60" x2="447.60" y2="258.60" stroke="#ebebeb" stroke-width="0.50" />
<line x1="253.40" y1="272.60" x2="447.60" y2="272.60" stroke="#ebebeb" stroke-width="0.50" />
<line x1="308.30" y1="169.20" x2="308.30" y2="285.80" stroke="#ebebeb" stroke-width="0.50" />
<line x1="329.10" y1="169.20" x2="329.10" y2="285.80" stroke="#ebebeb" stroke-width="0.50" />
<line x1="349.90" y1="169.20" x2="349.90" y2="285.80" stroke="#ebebeb" stroke-width="0.50" />
<line x1="370.70" y1="169.20" x2="370.70" y2="285.80" stroke="#ebebeb" stroke-width="0.50" />
<line x1="391.50" y1="169.20" x2="391.50" y2="285.80" stroke="#ebebeb" stroke-width="0.50" />
<line x1="412.30" y1="169.20" x2="412.30" y2="285.80" stroke="#ebebeb" stroke-width="0.50" />
<line x1="433.10" y1="169.20" x2="433.10" y2="285.80" stroke="#ebebeb" stroke-width="0.50" />
<path d="M261.60,221.20 C262.67,220.97 265.28,220.68 268.00,219.80 C270.72,218.92 274.58,217.38 277.90,215.90 C281.22,214.42 284.58,212.57 287.90,210.90 C291.22,209.23 294.48,207.62 297.80,205.90 C301.12,204.18 304.47,202.20 307.80,200.60 C311.13,199.00 314.48,197.57 317.80,196.30 C321.12,195.03 324.38,193.97 327.70,193.00 C331.02,192.03 334.38,191.17 337.70,190.50 C341.02,189.83 344.38,189.35 347.60,189.00 C350.82,188.65 354.10,188.43 357.00,188.40 C359.90,188.37 362.62,188.57 365.00,188.80 C367.38,189.03 368.48,189.32 371.30,189.80 C374.12,190.28 378.35,191.08 381.90,191.70 C385.45,192.32 389.05,193.07 392.60,193.50 C396.15,193.93 400.37,194.33 403.20,194.30 C406.03,194.27 407.12,194.12 409.60,193.30 C412.08,192.48 415.27,191.12 418.10,189.40 C420.93,187.68 423.77,185.13 426.60,183.00 C429.43,180.87 433.08,178.00 435.10,176.60 C437.12,175.20 438.10,174.93 438.70,174.60 L438.70,256.80 C437.92,256.55 436.07,255.87 434.00,255.30 C431.93,254.73 428.85,253.90 426.30,253.40 C423.75,252.90 421.23,252.37 418.70,252.30 C416.17,252.23 413.65,252.48 411.10,253.00 C408.55,253.52 405.95,254.37 403.40,255.40 C400.85,256.43 398.33,257.82 395.80,259.20 C393.27,260.58 390.75,262.20 388.20,263.70 C385.65,265.20 383.05,266.73 380.50,268.20 C377.95,269.67 375.43,271.15 372.90,272.50 C370.37,273.85 367.85,275.22 365.30,276.30 C362.75,277.38 360.15,278.30 357.60,279.00 C355.05,279.70 352.67,280.27 350.00,280.50 C347.33,280.73 344.55,280.60 341.60,280.40 C338.65,280.20 335.40,279.90 332.30,279.30 C329.20,278.70 326.08,277.90 323.00,276.80 C319.92,275.70 316.88,274.33 313.80,272.70 C310.72,271.07 307.60,269.17 304.50,267.00 C301.40,264.83 298.30,262.15 295.20,259.70 C292.10,257.25 289.00,254.75 285.90,252.30 C282.80,249.85 279.38,247.00 276.60,245.00 C273.82,243.00 271.70,241.57 269.20,240.30 C266.70,239.03 262.87,237.88 261.60,237.40 Z" fill="#93c2fb" fill-opacity="0.3"/>
<path d="M261.60,221.20 C262.67,220.97 265.28,220.68 268.00,219.80 C270.72,218.92 274.58,217.38 277.90,215.90 C281.22,214.42 284.58,212.57 287.90,210.90 C291.22,209.23 294.48,207.62 297.80,205.90 C301.12,204.18 304.47,202.20 307.80,200.60 C311.13,199.00 314.48,197.57 317.80,196.30 C321.12,195.03 324.38,193.97 327.70,193.00 C331.02,192.03 334.38,191.17 337.70,190.50 C341.02,189.83 344.38,189.35 347.60,189.00 C350.82,188.65 354.10,188.43 357.00,188.40 C359.90,188.37 362.62,188.57 365.00,188.80 C367.38,189.03 368.48,189.32 371.30,189.80 C374.12,190.28 378.35,191.08 381.90,191.70 C385.45,192.32 389.05,193.07 392.60,193.50 C396.15,193.93 400.37,194.33 403.20,194.30 C406.03,194.27 407.12,194.12 409.60,193.30 C412.08,192.48 415.27,191.12 418.10,189.40 C420.93,187.68 423.77,185.13 426.60,183.00 C429.43,180.87 433.08,178.00 435.10,176.60 C437.12,175.20 438.10,174.93 438.70,174.60" fill="none" stroke="#b3d2f6" stroke-width="0.6"/>
<path d="M261.60,237.40 C262.87,237.88 266.70,239.03 269.20,240.30 C271.70,241.57 273.82,243.00 276.60,245.00 C279.38,247.00 282.80,249.85 285.90,252.30 C289.00,254.75 292.10,257.25 295.20,259.70 C298.30,262.15 301.40,264.83 304.50,267.00 C307.60,269.17 310.72,271.07 313.80,272.70 C316.88,274.33 319.92,275.70 323.00,276.80 C326.08,277.90 329.20,278.70 332.30,279.30 C335.40,279.90 338.65,280.20 341.60,280.40 C344.55,280.60 347.33,280.73 350.00,280.50 C352.67,280.27 355.05,279.70 357.60,279.00 C360.15,278.30 362.75,277.38 365.30,276.30 C367.85,275.22 370.37,273.85 372.90,272.50 C375.43,271.15 377.95,269.67 380.50,268.20 C383.05,266.73 385.65,265.20 388.20,263.70 C390.75,262.20 393.27,260.58 395.80,259.20 C398.33,257.82 400.85,256.43 403.40,255.40 C405.95,254.37 408.55,253.52 411.10,253.00 C413.65,252.48 416.17,252.23 418.70,252.30 C421.23,252.37 423.75,252.90 426.30,253.40 C428.85,253.90 431.93,254.73 434.00,255.30 C436.07,255.87 437.92,256.55 438.70,256.80" fill="none" stroke="#b3d2f6" stroke-width="0.6"/>
<path d="M261.60,229.50 C264.33,229.88 271.97,231.17 278.00,231.80 C284.03,232.43 291.17,232.90 297.80,233.30 C304.43,233.70 311.60,233.97 317.80,234.20 C324.00,234.43 328.30,234.72 335.00,234.70 C341.70,234.68 351.95,234.62 358.00,234.10 C364.05,233.58 366.80,232.53 371.30,231.60 C375.80,230.67 379.68,229.72 385.00,228.50 C390.32,227.28 397.37,225.68 403.20,224.30 C409.03,222.92 414.08,221.58 420.00,220.20 C425.92,218.82 435.58,216.70 438.70,216.00" fill="none" stroke="#a9c9ee" stroke-width="0.8"/>
<line x1="253.00" y1="230.50" x2="447.60" y2="230.50" stroke="#9a9a9a" stroke-width="0.85" stroke-dasharray="1,1"/>
<circle cx="261.40" cy="228.90" r="0.80" fill="#74a6d3" />
<circle cx="396.70" cy="224.20" r="2.50" fill="#74a6d3" />
<circle cx="438.50" cy="220.10" r="3.00" fill="#74a6d3" />
<rect x="253.40" y="169.20" width="194.20" height="116.60" fill="none" stroke="#bdbdbd" stroke-width="1.3"/>
<line x1="252.20" y1="174.60" x2="253.40" y2="174.60" stroke="#555" stroke-width="0.50" />
<text x="251.00" y="175.80" font-size="3.40" text-anchor="end" fill="#6e6e6e" stroke="#6e6e6e"  stroke-width="0.00" transform="rotate(0.05 251.00 175.80)">0.08</text>
<line x1="252.20" y1="202.60" x2="253.40" y2="202.60" stroke="#555" stroke-width="0.50" />
<text x="251.00" y="203.80" font-size="3.40" text-anchor="end" fill="#6e6e6e" stroke="#6e6e6e"  stroke-width="0.00" transform="rotate(0.05 251.00 203.80)">0.04</text>
<line x1="252.20" y1="230.60" x2="253.40" y2="230.60" stroke="#555" stroke-width="0.50" />
<text x="251.00" y="231.80" font-size="3.40" text-anchor="end" fill="#6e6e6e" stroke="#6e6e6e"  stroke-width="0.00" transform="rotate(0.05 251.00 231.80)">0.00</text>
<line x1="252.20" y1="258.60" x2="253.40" y2="258.60" stroke="#555" stroke-width="0.50" />
<text x="251.00" y="259.80" font-size="3.40" text-anchor="end" fill="#6e6e6e" stroke="#6e6e6e"  stroke-width="0.00" transform="rotate(0.05 251.00 259.80)">-0.04</text>
<line x1="349.90" y1="285.80" x2="349.90" y2="287.00" stroke="#555" stroke-width="0.50" />
<text x="349.90" y="290.80" font-size="3.20" text-anchor="middle" fill="#6e6e6e" stroke="#6e6e6e"  stroke-width="0.00" transform="rotate(0.05 349.90 290.80)">45</text>
<line x1="391.50" y1="285.80" x2="391.50" y2="287.00" stroke="#555" stroke-width="0.50" />
<text x="391.50" y="290.80" font-size="3.20" text-anchor="middle" fill="#6e6e6e" stroke="#6e6e6e"  stroke-width="0.00" transform="rotate(0.05 391.50 290.80)">50</text>
<line x1="433.10" y1="285.80" x2="433.10" y2="287.00" stroke="#555" stroke-width="0.50" />
<text x="433.10" y="290.80" font-size="3.20" text-anchor="middle" fill="#6e6e6e" stroke="#6e6e6e"  stroke-width="0.00" transform="rotate(0.05 433.10 290.80)">55</text>
<text x="349.90" y="296.10" font-size="4.70" text-anchor="middle" fill="#111" stroke="#111" font-weight="bold" textLength="30.40" lengthAdjust="spacingAndGlyphs"  stroke-width="0.02" transform="rotate(0.05 349.90 296.10)">Noise Exposure</text>
<text x="0.00" y="0.00" font-size="4.80" text-anchor="middle" fill="#111" stroke="#111" font-weight="bold" textLength="35.00" lengthAdjust="spacingAndGlyphs" transform="translate(240.9,227.1) rotate(-89.95)" stroke-width="0.02">Log Relative Risk</text>
<line x1="495.30" y1="192.00" x2="684.00" y2="192.00" stroke="#ebebeb" stroke-width="0.50" />
<line x1="495.30" y1="203.80" x2="684.00" y2="203.80" stroke="#ebebeb" stroke-width="0.50" />
<line x1="495.30" y1="215.60" x2="684.00" y2="215.60" stroke="#ebebeb" stroke-width="0.50" />
<line x1="495.30" y1="227.40" x2="684.00" y2="227.40" stroke="#ebebeb" stroke-width="0.50" />
<line x1="495.30" y1="239.20" x2="684.00" y2="239.20" stroke="#ebebeb" stroke-width="0.50" />
<line x1="495.30" y1="251.00" x2="684.00" y2="251.00" stroke="#ebebeb" stroke-width="0.50" />
<line x1="495.30" y1="262.80" x2="684.00" y2="262.80" stroke="#ebebeb" stroke-width="0.50" />
<line x1="495.30" y1="274.60" x2="684.00" y2="274.60" stroke="#ebebeb" stroke-width="0.50" />
<line x1="495.30" y1="286.40" x2="684.00" y2="286.40" stroke="#ebebeb" stroke-width="0.50" />
<line x1="507.15" y1="186.10" x2="507.15" y2="290.60" stroke="#ebebeb" stroke-width="0.50" />
<line x1="534.60" y1="186.10" x2="534.60" y2="290.60" stroke="#ebebeb" stroke-width="0.50" />
<line x1="562.05" y1="186.10" x2="562.05" y2="290.60" stroke="#ebebeb" stroke-width="0.50" />
<line x1="589.50" y1="186.10" x2="589.50" y2="290.60" stroke="#ebebeb" stroke-width="0.50" />
<line x1="616.95" y1="186.10" x2="616.95" y2="290.60" stroke="#ebebeb" stroke-width="0.50" />
<line x1="644.40" y1="186.10" x2="644.40" y2="290.60" stroke="#ebebeb" stroke-width="0.50" />
<line x1="671.85" y1="186.10" x2="671.85" y2="290.60" stroke="#ebebeb" stroke-width="0.50" />
<polygon points="502.9,286.4 589.5,192.0 676.1,286.4" fill="#000" fill-opacity="0.03"/>
<path d="M502.9,286.4 L589.5,192.0 L676.1,286.4" fill="none" stroke="#777" stroke-width="0.6" stroke-dasharray="1,1"/>
<line x1="589.50" y1="192.00" x2="589.50" y2="290.60" stroke="#9a9a9a" stroke-width="0.60" stroke-dasharray="1,1"/>
<ellipse cx="592.0" cy="210.5" rx="0.8" ry="1.1" fill="#666"/>
<circle cx="599.20" cy="239.30" r="2.10" fill="#666666" />
<circle cx="605.80" cy="244.20" r="2.20" fill="#666666" />
<text x="493.40" y="193.10" font-size="3.10" text-anchor="end" fill="#6e6e6e" stroke="#6e6e6e"  stroke-width="0.00" transform="rotate(0.05 493.40 193.10)">0.00</text>
<text x="493.40" y="216.70" font-size="3.10" text-anchor="end" fill="#6e6e6e" stroke="#6e6e6e"  stroke-width="0.00" transform="rotate(0.05 493.40 216.70)">0.01</text>
<text x="493.40" y="240.30" font-size="3.10" text-anchor="end" fill="#6e6e6e" stroke="#6e6e6e"  stroke-width="0.00" transform="rotate(0.05 493.40 240.30)">0.02</text>
<text x="493.40" y="263.90" font-size="3.10" text-anchor="end" fill="#6e6e6e" stroke="#6e6e6e"  stroke-width="0.00" transform="rotate(0.05 493.40 263.90)">0.03</text>
<text x="493.40" y="287.50" font-size="3.10" text-anchor="end" fill="#6e6e6e" stroke="#6e6e6e"  stroke-width="0.00" transform="rotate(0.05 493.40 287.50)">0.04</text>
<text x="534.60" y="295.70" font-size="3.00" text-anchor="middle" fill="#6e6e6e" stroke="#6e6e6e"  stroke-width="0.00" transform="rotate(0.05 534.60 295.70)">-0.05</text>
<text x="589.50" y="295.70" font-size="3.00" text-anchor="middle" fill="#6e6e6e" stroke="#6e6e6e"  stroke-width="0.00" transform="rotate(0.05 589.50 295.70)">0.00</text>
<text x="644.40" y="295.70" font-size="3.00" text-anchor="middle" fill="#6e6e6e" stroke="#6e6e6e"  stroke-width="0.00" transform="rotate(0.05 644.40 295.70)">0.05</text>
<text x="589.40" y="300.00" font-size="3.90" text-anchor="middle" fill="#111" stroke="#111" textLength="16.10" lengthAdjust="spacingAndGlyphs"  stroke-width="0.06" transform="rotate(0.05 589.40 300.00)">Residuals</text>
<text x="0.00" y="0.00" font-size="4.20" text-anchor="middle" fill="#111" stroke="#111" font-weight="bold" textLength="25.40" lengthAdjust="spacingAndGlyphs" transform="translate(486.0,238.3) rotate(-89.95)" stroke-width="0.02">Standard Error</text>
</svg>
</body></html>
